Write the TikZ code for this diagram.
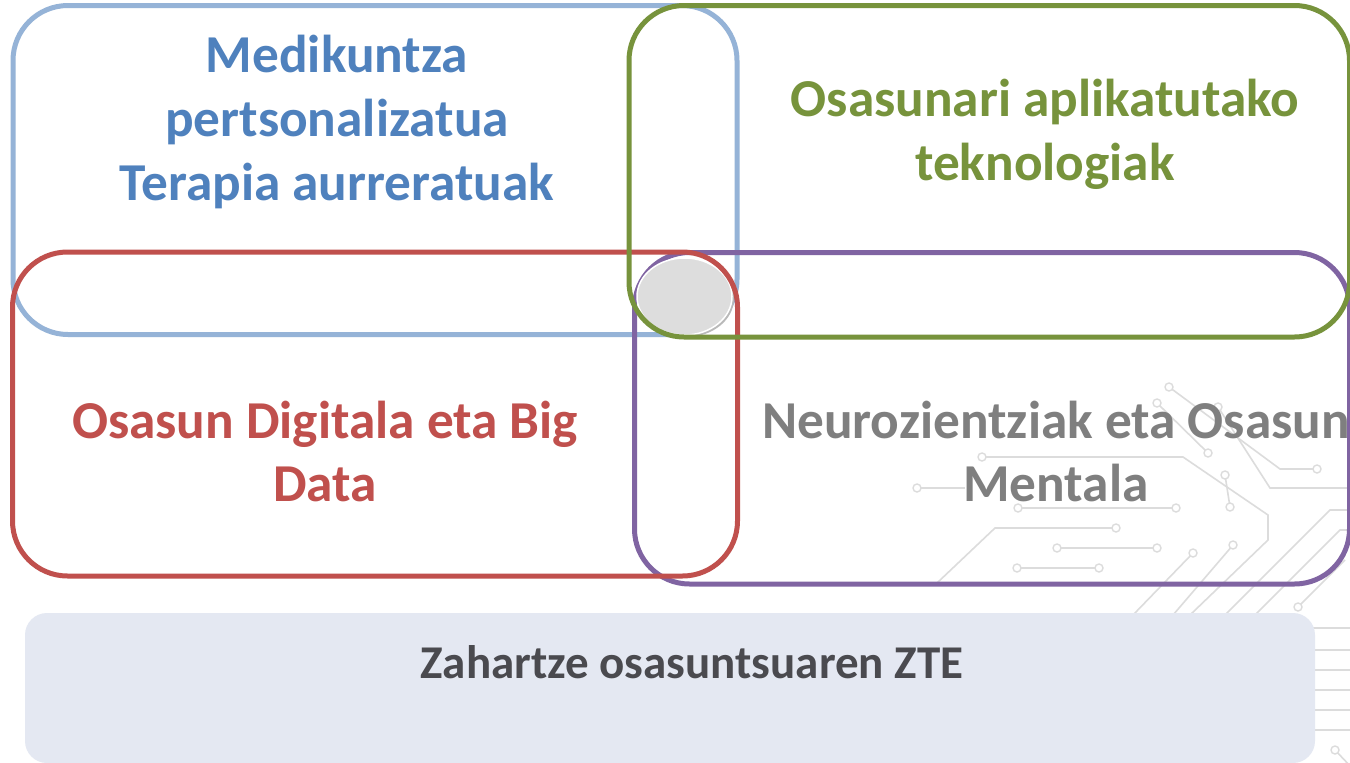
\documentclass[tikz,border=0pt]{standalone}
\usepackage{fontspec}
\setmainfont{Carlito}
\usetikzlibrary{shapes.geometric}
\definecolor{bluel}{HTML}{95B3D7}
\definecolor{bluet}{HTML}{4F81BD}
\definecolor{greenc}{HTML}{77933C}
\definecolor{redc}{HTML}{C0504D}
\definecolor{purplec}{HTML}{8064A2}
\definecolor{grayt}{HTML}{7F7F7F}
\definecolor{circ}{HTML}{DCDCDC}
\definecolor{basefill}{HTML}{E4E8F2}
\definecolor{baset}{HTML}{4A4A4F}
\definecolor{ellfill}{HTML}{DDDDDD}
\tikzset{
  areabox/.style={draw, line width=5pt, rounded corners=55pt},
  lbl/.style={font=\bfseries\fontsize{53.3}{64}\selectfont, anchor=base, inner sep=0pt},
  trace/.style={draw=circ, line width=1.6pt},
  pad/.style={circle, draw=circ, line width=1.4pt, fill=white, minimum size=8pt, inner sep=0pt},
}
\begin{document}
\begin{tikzpicture}[x=1pt,y=-1pt]
\useasboundingbox (0,0) rectangle (1350,763);
\clip (0,0) rectangle (1350,763);
\fill[white] (0,0) rectangle (1350,763);

% circuit background
\draw[trace] (1169,387) -- (1280,469) -- (1317,469);
\draw[trace] (1157,403) -- (1208,453);
\draw[trace] (1218,407) -- (1270,488) -- (1352,488);
\draw[trace] (982,457) -- (1183,457) -- (1268,515) -- (1268,540) -- (1190,615);
\draw[trace] (1225,475) -- (1230,507);
\draw[trace] (1018,508) -- (1176,508);
\draw[trace] (937,583) -- (995,528) -- (1116,528);
\draw[trace] (1057,548) -- (1157,548);
\draw[trace] (1017,568) -- (1099,568);
\draw[trace] (1193,553) -- (1133,615);
\draw[trace] (1233,545) -- (1173,615);
\draw[trace] (1352,510) -- (1330,510) -- (1225,615);
\draw[trace] (1352,530) -- (1340,530) -- (1255,615);
\draw[trace] (1345,560) -- (1298,607);
\draw[trace] (917,488) -- (965,488);
\foreach \yy in {628,650,670,690,710,730} \draw[trace] (1310,\yy) -- (1352,\yy);
\draw[trace] (1335,750) -- (1352,768);
\foreach \p in {(1169,387),(1317,469),(1157,403),(1208,453),(1218,407),(982,457),
  (1225,475),(1230,507),(1018,508),(1176,508),(1116,528),(1057,548),(1157,548),
  (1017,568),(1099,568),(1193,553),(1233,545),(1298,607),(917,488),(1335,750)}
  \node[pad] at \p {};

% bottom band
\node[fill=basefill, rounded corners=22pt, minimum width=1290pt, minimum height=150pt, inner sep=0pt]
  (base) at (670,688) {};
\node[lbl, font=\bfseries\fontsize{47}{50}\selectfont, text=baset] (basetxt) at (692,678) {Zahartze osasuntsuaren ZTE};

% area boxes
\draw[areabox, bluel] (13,5.5) rectangle (737,334.5);
\draw[areabox, purplec] (634.5,252.5) rectangle (1349.5,584);
\fill[gray!55] (686.5,298.5) ellipse [x radius=47.5pt, y radius=38.5pt];
\node[ellipse, fill=ellfill, draw=white, line width=1.5pt, minimum width=95pt, minimum height=77pt, inner sep=0pt]
  (core) at (684.5,296.5) {};
\draw[areabox, redc] (12.5,252) rectangle (737.5,576);
\draw[areabox, greenc] (629,5.5) rectangle (1349.5,337);

% labels
\node[lbl, text=bluet] (b1) at (337,72) {Medikuntza};
\node[lbl, text=bluet] (b2) at (337,136) {pertsonalizatua};
\node[lbl, text=bluet] (b3) at (337,200) {Terapia aurreratuak};
\node[lbl, text=greenc] (g1) at (1045,116) {Osasunari aplikatutako};
\node[lbl, text=greenc] (g2) at (1045,180) {teknologiak};
\node[lbl, text=redc] (r1) at (325,438) {Osasun Digitala eta Big};
\node[lbl, text=redc] (r2) at (325,501) {Data};
\node[lbl, text=grayt] (n1) at (1056,438) {Neurozientziak eta Osasun};
\node[lbl, text=grayt] (n2) at (1056,501) {Mentala};
\end{tikzpicture}
\end{document}
